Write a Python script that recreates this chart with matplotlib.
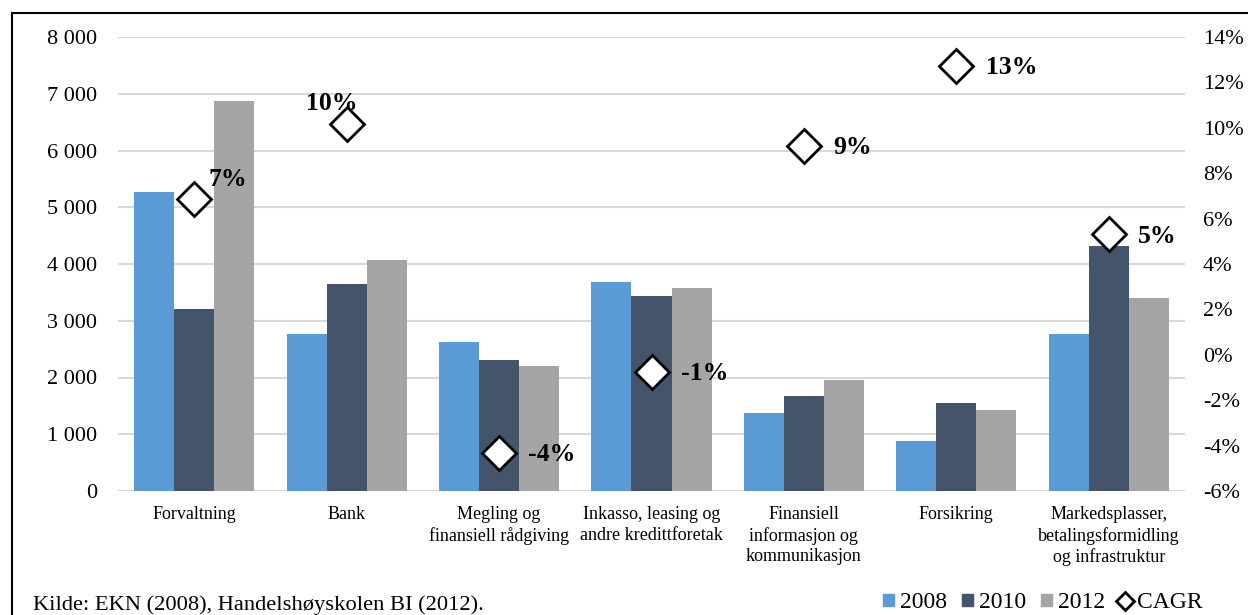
import matplotlib
matplotlib.use("Agg")
import matplotlib.pyplot as plt
import numpy as np
from matplotlib.lines import Line2D
from matplotlib.patches import Patch

plt.rcParams['font.family'] = ['Liberation Serif', 'DejaVu Serif']

categories = ["Forvaltning", "Bank", "Megling og\nfinansiell rådgiving",
              "Inkasso, leasing og\nandre kredittforetak",
              "Finansiell\ninformasjon og\nkommunikasjon", "Forsikring",
              "Markedsplasser,\nbetalingsformidling\nog infrastruktur"]
v2008 = [5270, 2766, 2626, 3683, 1374, 881, 2766]
v2010 = [3207, 3648, 2308, 3436, 1674, 1551, 4317]
v2012 = [6872, 4070, 2203, 3577, 1956, 1427, 3401]
cagr = [6.86, 10.17, -4.32, -0.75, 9.20, 12.73, 5.32]
cagr_labels = ["7%", "10%", "-4%", "-1%", "9%", "13%", "5%"]
series_names = ["2008", "2010", "2012"]
left_ticks = list(range(0, 8001, 1000))
right_ticks = list(range(-6, 15, 2))

colors = ["#5B9BD5", "#44546A", "#A5A5A5"]

W, H = 1248, 615
fig = plt.figure(figsize=(W/100, H/100), dpi=100)
ax = fig.add_axes([118/W, 1-491/H, (1185-118)/W, (491-37)/H])

x = np.arange(len(categories))
bw = 0.2625
for i, (vals, c) in enumerate(zip([v2008, v2010, v2012], colors)):
    ax.bar(x + (i-1)*bw, vals, width=bw, color=c, zorder=2)

ax.set_xlim(-0.5, len(categories)-0.5)
ax.set_ylim(0, 8000)
ax.set_yticks(left_ticks)
ax.set_yticklabels([f"{v:,}".replace(",", " ") for v in left_ticks], fontsize=16)
ax.set_xticks(x)
ax.set_xticklabels(categories, fontsize=13, linespacing=1.25)
ax.tick_params(axis='y', length=0, pad=15)
ax.tick_params(axis='x', length=0, pad=11)
ax.grid(axis='y', color='#D9D9D9', lw=1.5, zorder=0)
ax.set_axisbelow(True)
for s in ax.spines.values():
    s.set_visible(False)

ax2 = ax.twinx()
ax2.set_ylim(-6, 14)
ax2.set_yticks(right_ticks)
ax2.set_yticklabels([f"{v}%" for v in right_ticks], fontsize=16)
ax2.tick_params(axis='y', length=0, pad=13)
for s in ax2.spines.values():
    s.set_visible(False)
ax2.plot(x, cagr, linestyle='none', marker='D', markersize=17,
         markerfacecolor='white', markeredgecolor='black', markeredgewidth=2, zorder=5)

offsets = [(10, 14, 'left'), (-11, 15, 'center'), (21, -1, 'left'), (21, -1, 'left'),
           (21, -1, 'left'), (21, -1, 'left'), (21, -2, 'left')]
for xi, yi, lab, (dx, dy, ha) in zip(x, cagr, cagr_labels, offsets):
    ax2.annotate(lab, (xi, yi), xytext=(dx, dy), textcoords='offset points',
                 ha=ha, va='center', fontsize=18.5, fontweight='bold', zorder=6)

# frame lines
fig.add_artist(Line2D([12/W, 1], [1-13/H, 1-13/H], color='black', lw=1.5))
fig.add_artist(Line2D([12/W, 12/W], [0, 1-13/H], color='black', lw=1.5))

fig.text(33/W, 1-605/H, "Kilde: EKN (2008), Handelshøyskolen BI (2012).",
         fontsize=16.2, ha='left', va='center')

handles = [Patch(color=c) for c in colors] + [
    Line2D([], [], linestyle='none', marker='D', markersize=9,
           markerfacecolor='white', markeredgecolor='black', markeredgewidth=2)]
fig.legend(handles, series_names + ["CAGR"], loc='center right',
           bbox_to_anchor=(1214/W, 1-603/H), ncol=4, frameon=False, fontsize=17,
           handlelength=0.45, handleheight=0.45, handletextpad=0.25, columnspacing=0.65,
           borderpad=0)

fig.savefig("out.png", dpi=100)
